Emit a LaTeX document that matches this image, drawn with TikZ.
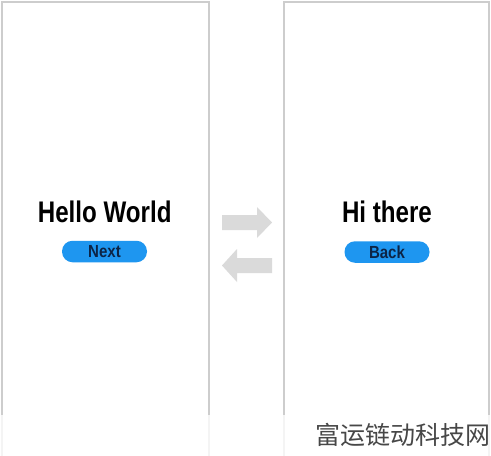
\documentclass[tikz,border=0pt]{standalone}
\usepackage{fontspec}
\setmainfont{Liberation Sans}
\newfontfamily\narrowsans[FakeStretch=0.81]{Liberation Sans}
\newfontfamily\buttonsans[FakeStretch=0.86]{Liberation Sans}
\newfontfamily\cjk{Noto Sans CJK SC}
\definecolor{btnblue}{RGB}{30,150,240}
\definecolor{btntext}{RGB}{12,36,70}
\definecolor{arrowgray}{RGB}{218,218,218}
\definecolor{framegray}{RGB}{205,205,205}

\begin{document}
\begin{tikzpicture}[x=1pt,y=-1pt]
        \tikzset{
            screen/.style={draw=framegray, line width=1.2pt},
            title text/.style={anchor=base, inner sep=0pt,
                font=\narrowsans\bfseries\fontsize{29.8}{30}\selectfont},
            pill button/.style={fill=btnblue, rounded corners=10.5pt,
                minimum width=85pt, minimum height=21.5pt, inner sep=0pt,
                text=btntext, font=\buttonsans\bfseries\fontsize{17.5}{17.5}\selectfont},
            swap arrow/.style={fill=arrowgray},
        }
        \clip (0,0) rectangle (491,456);
        \fill[white] (0,0) rectangle (491,456);

        % the two screens
        \foreach \l/\r in {2/209, 284/489} {
            \draw[screen] (\l,460) -- (\l,2) -- (\r,2) -- (\r,460);
        }

        % first screen
        \node[title text] (hello) at (104.7,222) {Hello World};
        \node[pill button] (next) at (104.5,251.5) {Next};

        % second screen
        \node[title text] (hi) at (387,222.5) {Hi there};
        \node[pill button] (back) at (387,252) {Back};

        % arrows between the screens
        \fill[swap arrow] (222,215) -- (257,215) -- (257,207) -- (272,222.5)
            -- (257,238) -- (257,230) -- (222,230) -- cycle;
        \fill[swap arrow] (272,258) -- (237,258) -- (237,249) -- (222,265.5)
            -- (237,282) -- (237,273) -- (272,273) -- cycle;

        % watermark strip
        \fill[white, opacity=0.78] (0,415) rectangle (491,456);
        \node[anchor=base west, inner sep=0pt, text=black!72,
            font=\cjk\fontsize{25}{25}\selectfont] (mark) at (315,444) {富运链动科技网};
\end{tikzpicture}
\end{document}
